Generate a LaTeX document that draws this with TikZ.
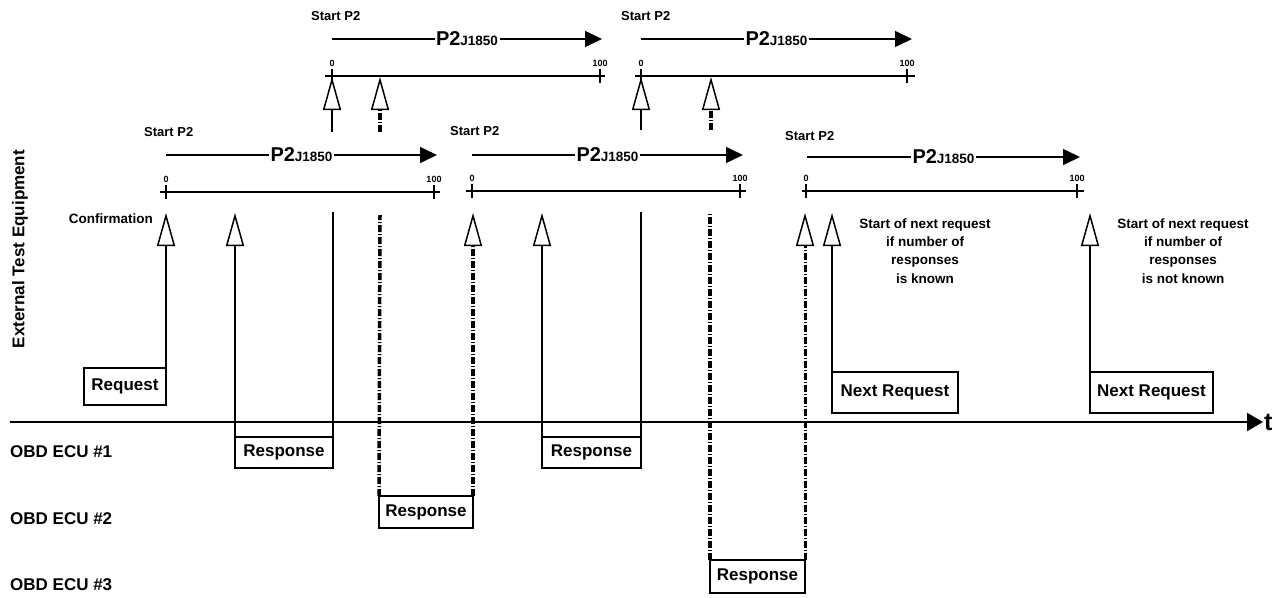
\documentclass[tikz,border=0pt]{standalone}
\usepackage{fontspec}
\setmainfont{Liberation Sans}
\usetikzlibrary{arrows.meta, calc}
\newcommand{\ptwo}{P2{\fontsize{13.5}{13.5}\selectfont J1850}}
\tikzset{
  startlbl/.style={font=\fontsize{13}{13}\selectfont\bfseries, anchor=west, inner sep=0pt},
  p2lbl/.style={fill=white, inner sep=1.5pt, font=\fontsize{20}{20}\selectfont\bfseries},
  p2arrow/.style={-{Triangle[length=17pt, width=16pt]}, line width=1.5pt},
  p2axis/.style={line width=2pt},
  ticklbl/.style={font=\fontsize{9}{9}\selectfont\bfseries, inner sep=0pt, anchor=south},
  hollow/.style={-{Triangle[open, length=33pt, width=18pt, line width=1.5pt]}, line width=1.5pt},
  plainline/.style={line width=1.5pt},
  dashdot/.style={line width=3.5pt, dash pattern=on 7pt off 2pt on 1pt off 2pt},
  dashdotthin/.style={line width=3pt, dash pattern=on 7pt off 2pt on 1pt off 2pt},
  msgbox/.style={draw, line width=1.5pt, inner sep=0pt, outer sep=0pt, anchor=north west,
    font=\fontsize{17}{17}\selectfont\bfseries},
  lanelbl/.style={font=\fontsize{17}{17}\selectfont\bfseries, anchor=west, inner sep=0pt},
  notelbl/.style={font=\fontsize{13.5}{18.3}\selectfont\bfseries, align=center, inner sep=0pt},
  timeline/.style={-{Triangle[length=16pt, width=18pt]}, line width=2pt},
}
\begin{document}
\begin{tikzpicture}[x=1pt, y=-1pt]
  \useasboundingbox (0,0) rectangle (1281,597);

  % === Upper P2 timelines ===
  \coordinate (zA1) at (332,76);  \coordinate (hA1) at (600,76);
  \node[startlbl] (sA1) at (311,16) {Start P2};
  \draw[p2arrow] (332,39) -- node[p2lbl] (pA1) {\ptwo} (602,39);
  \draw[p2axis] ([xshift=-7pt]zA1) -- ([xshift=5pt]hA1) (zA1) ++(0,-7) -- ++(0,14) (hA1) ++(0,-7) -- ++(0,14);
  \node[ticklbl] (zA1l) at ([yshift=9pt]zA1) {0};  \node[ticklbl] (hA1l) at ([yshift=9pt]hA1) {100};

  \coordinate (zA2) at (641,76);  \coordinate (hA2) at (907,76);
  \node[startlbl] (sA2) at (621,16) {Start P2};
  \draw[p2arrow] (641,39) -- node[p2lbl] (pA2) {\ptwo} (912,39);
  \draw[p2axis] ([xshift=-6pt]zA2) -- ([xshift=8pt]hA2) (zA2) ++(0,-7) -- ++(0,14) (hA2) ++(0,-7) -- ++(0,14);
  \node[ticklbl] (zA2l) at ([yshift=9pt]zA2) {0};  \node[ticklbl] (hA2l) at ([yshift=9pt]hA2) {100};

  % === Lower P2 timelines ===
  \coordinate (zB1) at (166,192);  \coordinate (hB1) at (434,192);
  \node[startlbl] (sB1) at (144,132) {Start P2};
  \draw[p2arrow] (166,155) -- node[p2lbl] (pB1) {\ptwo} (437,155);
  \draw[p2axis] ([xshift=-6pt]zB1) -- ([xshift=6pt]hB1) (zB1) ++(0,-7) -- ++(0,14) (hB1) ++(0,-7) -- ++(0,14);
  \node[ticklbl] (zB1l) at ([yshift=9pt]zB1) {0};  \node[ticklbl] (hB1l) at ([yshift=9pt]hB1) {100};

  \coordinate (zB2) at (472,191);  \coordinate (hB2) at (740,191);
  \node[startlbl] (sB2) at (450,131) {Start P2};
  \draw[p2arrow] (472,155) -- node[p2lbl] (pB2) {\ptwo} (743,155);
  \draw[p2axis] ([xshift=-6pt]zB2) -- ([xshift=6pt]hB2) (zB2) ++(0,-7) -- ++(0,14) (hB2) ++(0,-7) -- ++(0,14);
  \node[ticklbl] (zB2l) at ([yshift=9pt]zB2) {0};  \node[ticklbl] (hB2l) at ([yshift=9pt]hB2) {100};

  \coordinate (zB3) at (806,191);  \coordinate (hB3) at (1077,191);
  \node[startlbl] (sB3) at (785,136) {Start P2};
  \draw[p2arrow] (807,157) -- node[p2lbl] (pB3) {\ptwo} (1080,157);
  \draw[p2axis] ([xshift=-4pt]zB3) -- ([xshift=7pt]hB3) (zB3) ++(0,-7) -- ++(0,14) (hB3) ++(0,-7) -- ++(0,14);
  \node[ticklbl] (zB3l) at ([yshift=9pt]zB3) {0};  \node[ticklbl] (hB3l) at ([yshift=9pt]hB3) {100};

  % === Time axis and lanes ===
  \coordinate (t0) at (10,422);  \coordinate (t1) at (1263,422);
  \draw[timeline] (t0) -- (t1);
  \node[font=\fontsize{25}{25}\selectfont\bfseries, anchor=west, inner sep=1pt] (tlbl) at (t1) {t};
  \node[lanelbl, rotate=90, anchor=center] (ete) at (20,249) {External Test Equipment};
  \node[lanelbl] (ecu1) at (10,452) {OBD ECU \#1};
  \node[lanelbl] (ecu2) at (10,519) {OBD ECU \#2};
  \node[lanelbl] (ecu3) at (10,585) {OBD ECU \#3};

  % === Messages ===
  \node[msgbox, minimum width=82pt, minimum height=37pt] (req) at (84,368) {Request};
  \node[msgbox, minimum width=98pt, minimum height=31pt] (resp1a) at (235,437) {Response};
  \node[msgbox, minimum width=94pt, minimum height=32pt] (resp2) at (379,496) {Response};
  \node[msgbox, minimum width=99pt, minimum height=31pt] (resp1b) at (542,437) {Response};
  \node[msgbox, minimum width=95pt, minimum height=33pt] (resp3) at (710,560) {Response};
  \node[msgbox, minimum width=126pt, minimum height=41pt] (nreq1) at (832,372) {Next Request};
  \node[msgbox, minimum width=123pt, minimum height=41pt] (nreq2) at (1090,372) {Next Request};

  % Arrow tips on the timelines
  \coordinate (tipB1) at (166,213);  \coordinate (tipB2) at (235,213);
  \coordinate (tipB4) at (473,213);  \coordinate (tipB5) at (542,213);
  \coordinate (tipB6) at (805,213);  \coordinate (tipB7) at (832,213);
  \coordinate (tipB8) at (1090,213);
  \coordinate (endB3) at (333,212);  \coordinate (endB4) at (380,215);
  \coordinate (endB6) at (641,212);  \coordinate (endB7) at (710,213);
  \coordinate (tipA1) at (332,77);   \coordinate (tipA2) at (380,77);
  \coordinate (tipA3) at (641,77);   \coordinate (tipA4) at (711,77);
  \coordinate (stA1) at (332,132);   \coordinate (stA2) at (380,132);
  \coordinate (stA3) at (641,130);   \coordinate (stA4) at (711,130);

  % Connectors: messages -> timelines
  \draw[hollow] (req.north east) -- (tipB1);
  \draw[hollow] (resp1a.north west) -- (tipB2);
  \draw[plainline] (resp1a.north east) -- (endB3);
  \draw[dashdot] (resp2.north west) -- (endB4);
  \draw[hollow, dashdot] (resp2.north east) -- (tipB4);
  \draw[hollow] (resp1b.north west) -- (tipB5);
  \draw[plainline] (resp1b.north east) -- (endB6);
  \draw[dashdot, line width=4.5pt] (resp3.north west) -- (endB7);
  \draw[hollow, dashdotthin] (resp3.north east) -- (tipB6);
  \draw[hollow] (nreq1.north west) -- (tipB7);
  \draw[hollow] (nreq2.north west) -- (tipB8);

  % Connectors: upper timelines
  \draw[hollow] (stA1) -- (tipA1);
  \draw[hollow, dashdot] (stA2) -- (tipA2);
  \draw[hollow] (stA3) -- (tipA3);
  \draw[hollow, dashdot] (stA4) -- (tipA4);

  % === Annotations ===
  \node[font=\fontsize{13.5}{13.5}\selectfont\bfseries, anchor=east, inner sep=0pt] (conf) at (153,219) {Confirmation};
  \node[notelbl] (known) at (925,251) {Start of next request\\if number of\\responses\\is known};
  \node[notelbl] (unknown) at (1183,251) {Start of next request\\if number of\\responses\\is not known};

\end{tikzpicture}
\end{document}
